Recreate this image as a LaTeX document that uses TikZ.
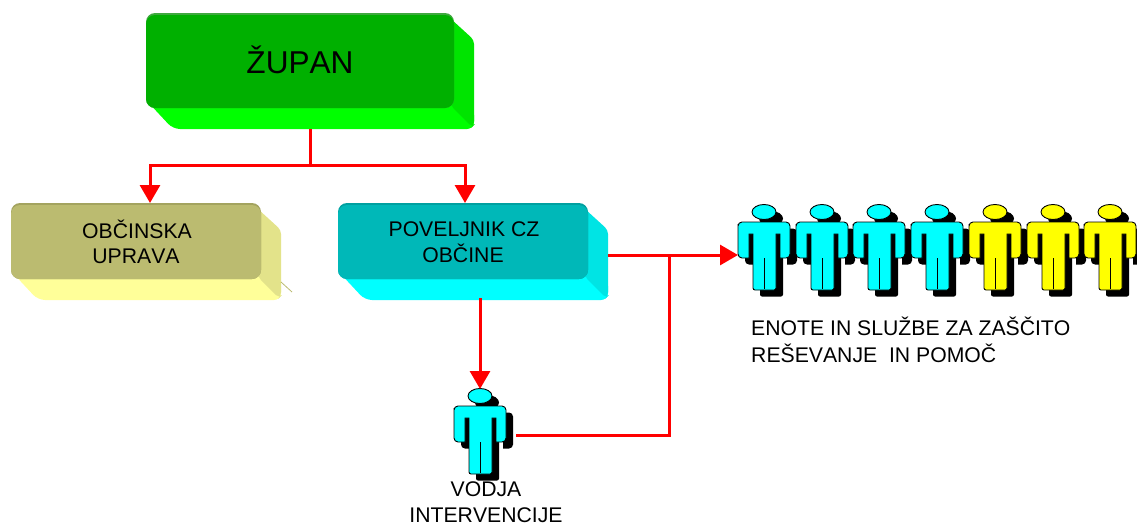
\documentclass[tikz,border=0pt]{standalone}
\usepackage{fontspec}
\setmainfont[Kerning=Off]{Liberation Sans}
\usetikzlibrary{arrows.meta}
\definecolor{gf}{HTML}{00B000}\definecolor{gr}{HTML}{00E400}\definecolor{gb}{HTML}{00FF00}\definecolor{gt}{HTML}{3FA83F}
\definecolor{of}{HTML}{BBBB70}\definecolor{or}{HTML}{E3E38A}\definecolor{ob}{HTML}{FFFF99}\definecolor{ot}{HTML}{A3A35F}
\definecolor{cf}{HTML}{00B8B8}\definecolor{cr}{HTML}{00E4E4}\definecolor{cb}{HTML}{00FFFF}\definecolor{ct}{HTML}{00A0A0}
\definecolor{figc}{HTML}{00FFFF}\definecolor{figy}{HTML}{FFFF00}
\tikzset{
  conn/.style={draw=red,line width=3pt},
  arr/.style={conn,-{Triangle[length=18pt,width=20pt]}},
  lbl/.style={font=\fontsize{21.2pt}{25.5pt}\selectfont,align=center,inner sep=0pt},
  fig/.style={minimum width=52pt,minimum height=100pt,inner sep=0pt,outer sep=0pt},
}
% name, x0, y0, x1, y1 (front face), colour prefix, text
\newcommand{\exbox}[7]{%
  \fill[#6b,rounded corners=7pt] (#2,#5-8) -- (#2+27,#5+21) -- (#4+20,#5+21) -- (#4+20,#5) -- (#4,#5-10) -- cycle;
  \fill[#6r,rounded corners=4pt] (#4-3,#3+6) -- (#4+20,#3+27) -- (#4+20,#5+17) -- (#4+18,#5+19) -- (#4-3,#5-2) -- cycle;
  \node[fill=#6t,rounded corners=9pt,inner sep=0,outer sep=0,minimum width=#4pt-#2pt,minimum height=#5pt-#3pt] at ({(#2+#4)/2},{(#3+#5)/2}) {};
  \node[fill=#6f,rounded corners=9pt,inner sep=0,outer sep=0,align=center,font=\fontsize{21.2pt}{25.5pt}\selectfont,minimum width=#4pt-#2pt,minimum height=#5pt-#3pt-2pt] (#1) at ({(#2+#4)/2},{(#3+#5)/2+1}) {#7};
}
\newcommand{\figpath}{
  (-26,16) [rounded corners=4pt] -- (-26,10) -- (26,10) -- (26,46) [rounded corners=0pt] -- (16,46) -- (16,22) -- (12,22)
  [rounded corners=2pt] -- (12,78) -- (-11,78) [rounded corners=0pt] -- (-11,22) -- (-15,22) -- (-15,46) [rounded corners=4pt] -- (-26,46) -- cycle
  (0,0) ellipse [x radius=12,y radius=7.5]}
% name, head x, head y, colour
\newcommand{\person}[4]{%
  \begin{scope}[shift={(#2,#3)}]
    \fill[black,shift={(7,6.5)}] \figpath;
    \filldraw[fill=#4,draw=black,line width=.9pt] \figpath;
    \draw[black,line width=1.3pt] (0.5,46) -- (0.5,77);
  \end{scope}
  \node[fig] (#1) at (#2,#3+43) {};
}
\begin{document}
\begin{tikzpicture}[x=1pt,y=-1pt]
\useasboundingbox (0,0) rectangle (1137,525);
\exbox{zupan}{146}{13}{454}{108}{g}{\raisebox{-11.5pt}[0pt][0pt]{\fontsize{31.6pt}{36pt}\selectfont ŽUPAN}}
\exbox{uprava}{11}{203}{261}{279}{o}{\hspace*{2pt}OBČINSKA\\UPRAVA}
\exbox{cz}{338}{203}{588}{279}{c}{\hspace*{2pt}POVELJNIK CZ\\OBČINE}
\draw[of,line width=.8pt] (281,282) -- (292,292);
\foreach \nm/\px/\col in {p1/764/figc,p2/822/figc,p3/879/figc,p4/937/figc,p5/995/figy,p6/1053/figy,p7/1110/figy}{
  \person{\nm}{\px}{212}{\col}
}
\person{vodja}{480}{396}{figc}
\coordinate (zupanout) at (310,129);
\coordinate (split) at (310,165);
\coordinate (upravain) at (150,203);
\coordinate (czin) at (465,203);
\coordinate (czright) at (608,255);
\coordinate (czdown) at (480,298);
\coordinate (vodjain) at (480,389);
\coordinate (vodjaout) at (516,435);
\coordinate (join) at (669,255);
\coordinate (p1in) at (738,255);
\draw[conn] (zupanout) -- (split);
\draw[arr] (split) -| (upravain);
\draw[arr] (split) -| (czin);
\draw[arr] (czright) -- (p1in);
\draw[arr] (czdown) -- (vodjain);
\draw[conn] (vodjaout) -| (join);
\node[lbl,anchor=base] (vodjatxt) at (486,522) {VODJA\\INTERVENCIJE};
\node[lbl,anchor=base west,align=left,font=\fontsize{21.2pt}{27pt}\selectfont] (enote) at (751,362) {ENOTE IN SLUŽBE ZA ZAŠČITO\\REŠEVANJE\ \ IN POMOČ};
\end{tikzpicture}
\end{document}
